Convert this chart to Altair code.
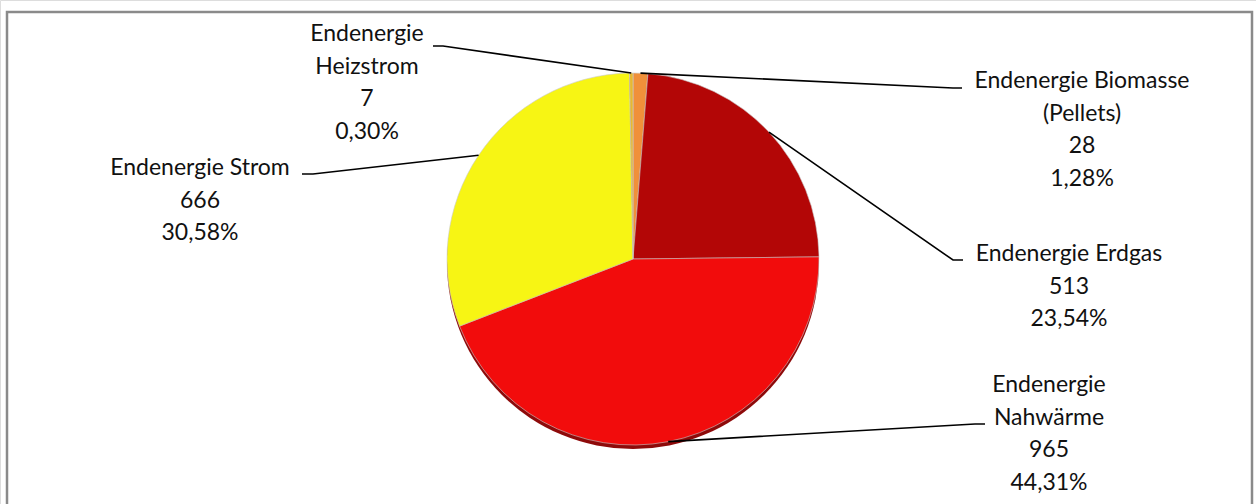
import math
import altair as alt
import pandas as pd

# Endenergie shares, clockwise from 12 o'clock
names = ["Endenergie Biomasse\n(Pellets)", "Endenergie Erdgas", "Endenergie\nNahwärme",
         "Endenergie Strom", "Endenergie\nHeizstrom"]
keys = ["Biomasse", "Erdgas", "Nahwärme", "Strom", "Heizstrom"]
values = [28, 513, 965, 666, 7]
percents = [1.28, 23.54, 44.31, 30.58, 0.30]
colors = ["#F0903A", "#B30606", "#F20C0C", "#F7F514", "#E8B830"]

# layout of the pie and its labels (pixels)
W, H = 1256, 504
CX, CY, R = 633, 259, 186
label_x = [1082, 1069, 1049, 200, 367]
label_y = [88, 261, 392, 175, 41]          # baseline of first label line
elbow = [(953, 88), (953, 260), (975, 424), (313, 174), (443, 46)]
line_end = [(962, 88), (963, 260), (985, 424), (302, 174), (433, 46)]

def pct_text(p):
    return f"{p:.2f}".replace(".", ",") + "%"

slices = pd.DataFrame({
    "key": keys,
    "pct": percents,
    "idx": list(range(len(keys))),
})

labels = pd.DataFrame({
    "key": keys,
    "text": [f"{n}\n{v}\n{pct_text(p)}" for n, v, p in zip(names, values, percents)],
    "x": label_x,
    "y": label_y,
})

# leader lines start on the rim at each slice's middle angle
total = sum(percents)
rows = []
cum = 0.0
for i, k in enumerate(keys):
    mid = (cum + percents[i] / 2) / total * 2 * math.pi
    cum += percents[i]
    sx = CX + R * math.sin(mid)
    sy = CY - R * math.cos(mid)
    pts = [(sx, sy), elbow[i], line_end[i]]
    for j, (px, py) in enumerate(pts):
        rows.append({"key": k, "seq": j, "x": px, "y": py})
leaders = pd.DataFrame(rows)

color_scale = alt.Scale(domain=keys, range=colors)

frame = alt.Chart(pd.DataFrame({"a": [0]})).mark_rect(
    fillOpacity=0, stroke="#8a8a8a", strokeWidth=2.5
).encode(x=alt.value(7), x2=alt.value(1252), y=alt.value(12), y2=alt.value(520))

# dark rim under the disc, nudged down a few pixels
shadow = alt.Chart(pd.DataFrame({"a": [0]})).mark_arc(
    radius=R, color="#8E0A0A", theta=0, theta2=2 * math.pi
).encode(x=alt.value(CX), y=alt.value(CY + 4))

pie = alt.Chart(slices).mark_arc(radius=R, stroke="#c9c9c9", strokeWidth=0.6).encode(
    theta=alt.Theta("pct:Q", stack=True),
    order=alt.Order("idx:Q"),
    color=alt.Color("key:N", scale=color_scale, legend=None),
    x=alt.value(CX), y=alt.value(CY),
)

lines = alt.Chart(leaders).mark_line(color="#000000", strokeWidth=1.6).encode(
    x=alt.X("x:Q", scale=None),
    y=alt.Y("y:Q", scale=None),
    detail="key:N",
    order="seq:Q",
)

text = alt.Chart(labels).mark_text(
    font="Lato", fontSize=23, lineBreak="\n", lineHeight=32.7,
    align="center", baseline="alphabetic", color="#111111"
).encode(
    x=alt.X("x:Q", scale=None),
    y=alt.Y("y:Q", scale=None),
    text="text:N",
)

chart = alt.layer(frame, shadow, pie, lines, text).properties(
    width=W, height=H, autosize=alt.AutoSizeParams(type="none"), padding=0
).configure_view(stroke=None).configure(background="#ffffff")

chart.save("out.html", embed_options={"renderer": "svg", "actions": False})
